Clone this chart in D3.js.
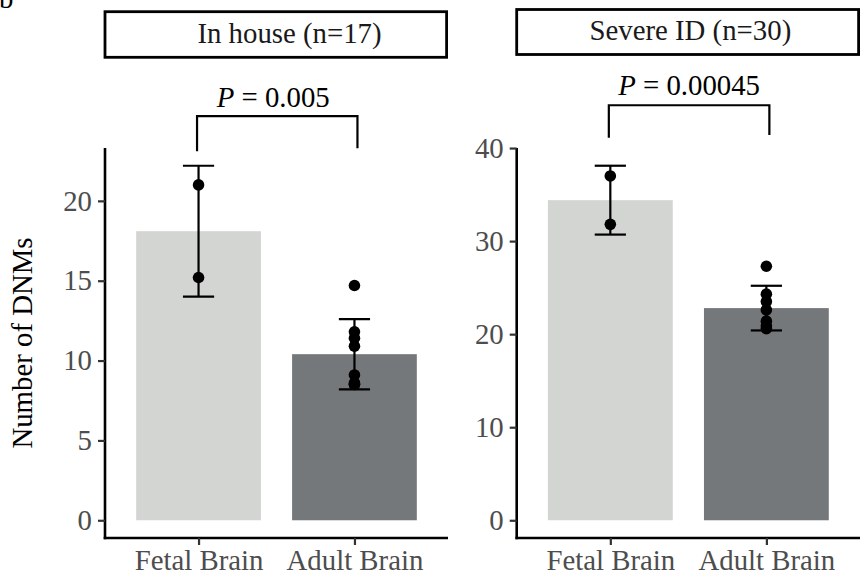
<!DOCTYPE html>
<html>
<head>
<meta charset="utf-8">
<script src="https://cdn.jsdelivr.net/npm/d3@7"></script>
<style>
  body { margin: 0; background: #fff; }
  svg { display: block; }
  text { font-family: "Liberation Serif", "Times New Roman", serif; }
</style>
</head>
<body>
<svg id="chart" width="861" height="574"></svg>
<script>
// ---- data ----
const categories = ["Fetal Brain", "Adult Brain"];
const panelTitles = ["In house (n=17)", "Severe ID (n=30)"];
const inHouseMeans = [18.1, 10.4];
const inHouseSD = [4.1, 2.2];
const inHouseFetalPoints = [21.0, 15.2];
const inHouseAdultPoints = [14.7, 11.8, 11.4, 10.9, 9.1, 8.6, 8.5, 8.5];
const severeMeans = [34.4, 22.8];
const severeSD = [3.7, 2.4];
const severeFetalPoints = [37.0, 31.8];
const severeAdultPoints = [27.3, 24.3, 23.5, 22.6, 21.4, 20.9, 20.6];
const pValues = ["0.005", "0.00045"];
const inHouseTicks = [0, 5, 10, 15, 20];
const severeTicks = [0, 10, 20, 30, 40];
const barColors = ["#d3d5d2", "#75787b"];

const panels = [
  { title: panelTitles[0], means: inHouseMeans, sd: inHouseSD,
    points: [inHouseFetalPoints, inHouseAdultPoints], ticks: inHouseTicks, p: pValues[0],
    x0: 105, x1: 448, strip: [11.7, 57.3], titleDx: 13, pDx: -4,
    bracket: { y: 25.3, l: 23.1, r: 23.3 }, pBase: 9.5 },
  { title: panelTitles[1], means: severeMeans, sd: severeSD,
    points: [severeFetalPoints, severeAdultPoints], ticks: severeTicks, p: pValues[1],
    x0: 516.7, x1: 860, strip: [9.5, 54.5], titleDx: 2, pDx: 0,
    bracket: { y: 44.6, l: 41.1, r: 41.4 }, pBase: 10 }
];

const svg = d3.select("#chart");
const yTop = 148, yBot = 538;
const fs = 28.8;

// panel label "b" (partially cut off at top, as in the reference)
svg.append("text").attr("x", -1).attr("y", 8).attr("font-size", fs).attr("fill", "#000").text("b");

// y-axis title
svg.append("text")
  .attr("transform", `translate(32,${(yTop + yBot) / 2}) rotate(-90)`)
  .attr("text-anchor", "middle").attr("font-size", fs).attr("fill", "#000")
  .text("Number of DNMs");

panels.forEach(pn => {
  const g = svg.append("g");
  const maxV = d3.max(pn.means.map((m, i) => m + pn.sd[i]).concat(pn.points.flat()));
  const pad = maxV * 0.05;
  const y = d3.scaleLinear().domain([-pad, maxV + pad]).range([yBot, yTop]);
  const x = d3.scalePoint().domain(categories).range([pn.x0, pn.x1]).padding(0.6);
  const step = x.step();
  const bw = step * 0.8, cw = step * 0.2;

  // strip
  g.append("rect").attr("x", pn.x0).attr("y", pn.strip[0])
    .attr("width", pn.x1 - pn.x0 - 1.4).attr("height", pn.strip[1] - pn.strip[0])
    .attr("fill", "#fff").attr("stroke", "#000").attr("stroke-width", 2.8);
  g.append("text").attr("x", (pn.x0 + pn.x1) / 2 + pn.titleDx).attr("y", (pn.strip[0] + pn.strip[1]) / 2 + 8)
    .attr("text-anchor", "middle").attr("font-size", fs).attr("fill", "#1a1a1a").text(pn.title);

  // bars
  g.selectAll("rect.bar").data(categories).join("rect").attr("class", "bar")
    .attr("x", d => x(d) - bw / 2).attr("width", bw)
    .attr("y", (d, i) => y(pn.means[i])).attr("height", (d, i) => y(0) - y(pn.means[i]))
    .attr("fill", (d, i) => barColors[i]);

  // error bars
  categories.forEach((c, i) => {
    const lo = y(pn.means[i] - pn.sd[i]), hi = y(pn.means[i] + pn.sd[i]);
    const cx = x(c);
    const eg = g.append("g").attr("stroke", "#000").attr("stroke-width", 2.2);
    eg.append("line").attr("x1", cx).attr("x2", cx).attr("y1", lo).attr("y2", hi);
    eg.append("line").attr("x1", cx - cw / 2).attr("x2", cx + cw / 2).attr("y1", lo).attr("y2", lo);
    eg.append("line").attr("x1", cx - cw / 2).attr("x2", cx + cw / 2).attr("y1", hi).attr("y2", hi);
  });

  // points
  categories.forEach((c, i) => {
    g.selectAll(null).data(pn.points[i]).join("circle")
      .attr("cx", x(c)).attr("cy", d => y(d)).attr("r", 5.8).attr("fill", "#000");
  });

  // axes
  const ya = g.append("g").attr("transform", `translate(${pn.x0},0)`)
    .call(d3.axisLeft(y).tickValues(pn.ticks).tickSize(7).tickPadding(6));
  const xa = g.append("g").attr("transform", `translate(0,${yBot})`)
    .call(d3.axisBottom(x).tickSize(7).tickPadding(5));
  [ya, xa].forEach(a => {
    a.select(".domain").attr("stroke", "#000").attr("stroke-width", 2.6);
    a.selectAll(".tick line").attr("stroke", "#333").attr("stroke-width", 2.2);
    a.selectAll(".tick text").attr("font-size", fs).attr("fill", "#4d4d4d")
      .attr("font-family", "Liberation Serif, Times New Roman, serif");
  });
  ya.select(".domain").attr("d", `M0,${yTop}V${yBot + 1.3}`);
  xa.select(".domain").attr("d", `M${pn.x0 - 1.3},0H${pn.x1}`);

  // significance bracket
  const bx1 = x(categories[0]) - 1.5, bx2 = x(categories[1]) + 3;
  g.append("path")
    .attr("d", `M${bx1},${y(pn.bracket.l)}V${y(pn.bracket.y)}H${bx2}V${y(pn.bracket.r)}`)
    .attr("fill", "none").attr("stroke", "#000").attr("stroke-width", 2.2);
  const pt = g.append("text").attr("x", (bx1 + bx2) / 2 + pn.pDx).attr("y", y(pn.bracket.y) - pn.pBase)
    .attr("text-anchor", "middle").attr("font-size", fs).attr("fill", "#000");
  pt.append("tspan").attr("font-style", "italic").text("P");
  pt.append("tspan").text(" = " + pn.p);
});
</script>
</body>
</html>
